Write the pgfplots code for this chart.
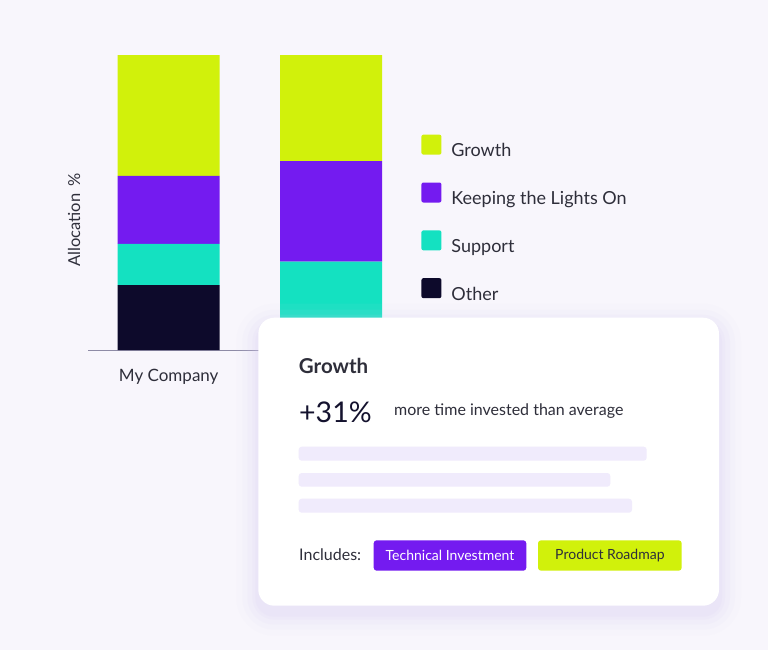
\documentclass[border=0pt]{standalone}
\usepackage{pgfplots}
\pgfplotsset{compat=1.18}
\usepackage{fontspec}
\setmainfont{Lato}

\definecolor{bg}{HTML}{F8F6FC}
\definecolor{cGrowth}{HTML}{D1F10B}
\definecolor{cKtlo}{HTML}{741BF0}
\definecolor{cSupport}{HTML}{14E1C1}
\definecolor{cOther}{HTML}{0D0A2B}
\definecolor{txt}{HTML}{2E2E3A}
\definecolor{navy}{HTML}{14122E}
\definecolor{axisgray}{HTML}{8E8BA6}
\definecolor{ghost}{HTML}{F0EBFC}
\definecolor{glow}{HTML}{D9CFF5}

\begin{document}
\begin{tikzpicture}
\path[use as bounding box] (0,0) rectangle (768pt,-650pt);
\fill[bg] (0,0) rectangle (768pt,-650pt);

\begin{axis}[
  at={(88pt,-350pt)}, anchor=south west,
  scale only axis,
  x=162.5pt, y=2.95pt,
  xmin=-0.4966, xmax=1.5, ymin=0, ymax=100,
  ybar stacked, bar width=102pt,
  axis x line=bottom, axis y line=none,
  x axis line style={-, draw=axisgray, line width=1pt},
  xtick={0}, xticklabels={My Company},
  ytick=\empty,
  major tick length=0pt,
  xticklabel style={font=\fontsize{17}{20}\selectfont, text=txt, anchor=base, yshift=-31pt},
  reverse legend,
  legend cell align=left,
  legend image code/.code={\draw[#1, draw=none, rounded corners=2pt] (0pt,-3.6pt) rectangle (20pt,16.4pt);},
  legend style={at={(1.0277,0.7301)}, anchor=north west, draw=none, fill=none,
    inner sep=0pt, outer sep=0pt, row sep=24.1pt,
    font=\fontsize{18}{20}\selectfont, text=txt,
    nodes={inner sep=0pt},
    /tikz/every odd column/.append style={column sep=10pt}},
]
% Other
\addplot[fill=cOther, draw=none] coordinates {(0,22) (1,10)};
% Support
\addplot[fill=cSupport, draw=none] coordinates {(0,14) (1,20)};
% Keeping the Lights On
\addplot[fill=cKtlo, draw=none] coordinates {(0,23) (1,34)};
% Growth
\addplot[fill=cGrowth, draw=none] coordinates {(0,41) (1,36)};
\legend{Other, Support, Keeping the Lights On, Growth}
\end{axis}

\node[rotate=90, text=txt, font=\fontsize{16.5}{20}\selectfont] at (74pt,-220pt) {Allocation\hspace{7pt}\%};

% card in pixel coordinates
\begin{scope}[x=1pt, y=-1pt]
  \foreach \i/\o in {22/0.05, 16/0.07, 11/0.09, 6/0.11, 3/0.13}
    \fill[glow, opacity=\o, rounded corners=(16+\i)*1pt] (258.3-\i, 317.7-\i+8) rectangle (719+\i, 605.7+\i+8);
  \fill[white, rounded corners=16pt] (258.3,317.7) rectangle (719,605.7);

  \node[anchor=base west, inner sep=0pt, text=txt, font=\fontsize{20.5}{24}\selectfont\bfseries] at (298.7,373.3) {Growth};
  \node[anchor=base west, inner sep=0pt, text=navy, font=\fontsize{28.5}{34}\selectfont] at (299,422.7) {+31\%};
  \node[anchor=base west, inner sep=0pt, text=txt, font=\fontsize{16}{19}\selectfont] at (394,415) {more time invested than average};

  \fill[ghost, rounded corners=3pt] (298.7,446.7) rectangle (646.7,460.7);
  \fill[ghost, rounded corners=3pt] (298.7,473) rectangle (610.3,486.7);
  \fill[ghost, rounded corners=3pt] (298.7,498.7) rectangle (632,512.7);

  \node[anchor=base west, inner sep=0pt, text=txt, font=\fontsize{16}{19}\selectfont] at (299,560.7) {Includes:};
  \fill[cKtlo, rounded corners=3pt] (373.7,540.3) rectangle (526.3,570.7);
  \node[text=white, inner sep=0pt, font=\fontsize{14}{17}\selectfont] at (450,555.5) {Technical Investment};
  \fill[cGrowth, rounded corners=3pt] (538,540.3) rectangle (681.7,570.7);
  \node[text=txt, inner sep=0pt, font=\fontsize{14}{17}\selectfont] at (609.9,555.5) {Product Roadmap};
\end{scope}
\end{tikzpicture}
\end{document}
